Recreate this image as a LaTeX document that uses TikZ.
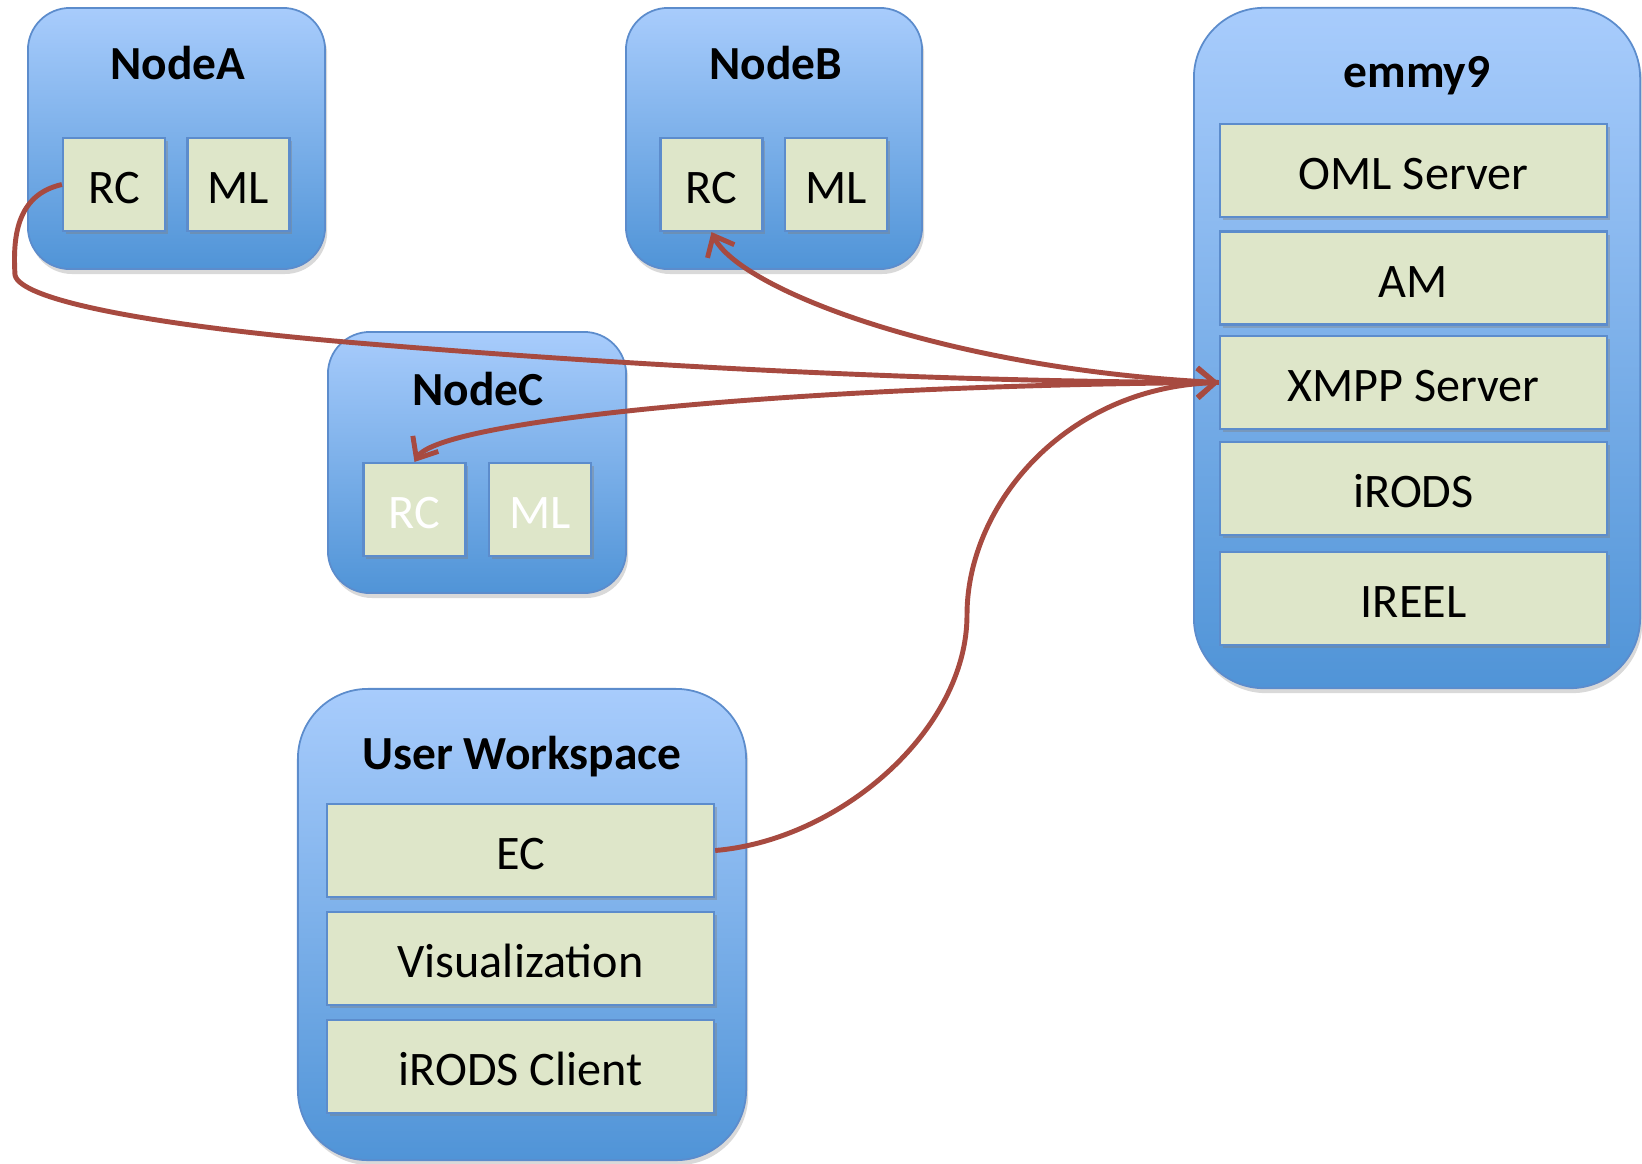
\documentclass[tikz,border=0pt]{standalone}
\usepackage{fontspec}
\setmainfont{Carlito}
\usetikzlibrary{shadows,arrows.meta}
\definecolor{topblue}{RGB}{168,204,252}
\definecolor{botblue}{RGB}{80,148,215}
\definecolor{edgeblue}{RGB}{92,140,204}
\definecolor{boxfill}{RGB}{222,230,201}
\definecolor{arrowred}{RGB}{167,74,64}
\begin{document}
\begin{tikzpicture}[x=0.01cm,y=-0.01cm,
  cont/.style={draw=edgeblue, line width=0.5pt, top color=topblue, bottom color=botblue,
    rounded corners=0.42cm, inner sep=0pt,
    drop shadow={shadow xshift=0.6pt,shadow yshift=-1.4pt,opacity=0.3}},
  bigcont/.style={cont, rounded corners=0.7cm},
  comp/.style={draw=edgeblue, line width=0.6pt, fill=boxfill, inner sep=0pt,
    font=\fontsize{13.7}{15}\selectfont, text height=11pt, text depth=0pt,
    drop shadow={shadow xshift=0.8pt,shadow yshift=-0.9pt,opacity=0.4}},
  sq/.style={comp, minimum width=1.02cm, minimum height=0.93cm},
  wide/.style={comp, minimum width=3.87cm, minimum height=0.93cm},
  ttl/.style={font=\bfseries\fontsize{13.5}{15}\selectfont},
  link/.style={draw=arrowred, line width=1.4pt},
  tip/.style={-{Straight Barb[length=5pt,width=8.5pt]}}
]
\useasboundingbox (0,0) rectangle (1642,1163);

% NodeA
\node[cont, minimum width=2.97cm, minimum height=2.61cm] (A) at (176.5,138.5) {};
\node[ttl] (At) at (178,63) {NodeA};
\node[sq] (Arc) at (114,184.5) {RC};
\node[sq] (Aml) at (238.5,184.5) {ML};

% NodeB
\node[cont, minimum width=2.96cm, minimum height=2.61cm] (B) at (774,138.5) {};
\node[ttl] (Bt) at (776,63) {NodeB};
\node[sq] (Brc) at (711.5,184.5) {RC};
\node[sq] (Bml) at (836,184.5) {ML};

% NodeC
\node[cont, minimum width=2.98cm, minimum height=2.61cm] (C) at (477,462.5) {};
\node[ttl] (Ct) at (478,389) {NodeC};
\node[sq, text=white] (Crc) at (414.5,509.5) {RC};
\node[sq, text=white] (Cml) at (540,509.5) {ML};

% emmy9
\node[bigcont, minimum width=4.46cm, minimum height=6.80cm] (E) at (1417,348) {};
\node[ttl] (Et) at (1417,76) {emmy9};
\node[wide] (oml) at (1413.5,170.5) {OML Server};
\node[wide] (am) at (1413.5,278) {AM};
\node[wide] (xmpp) at (1413.5,382.5) {XMPP Server};
\node[wide] (irods) at (1413.5,488.5) {iRODS};
\node[wide] (ireel) at (1413.5,598.5) {IREEL};

% User Workspace
\node[bigcont, minimum width=4.48cm, minimum height=4.71cm] (U) at (522,924.5) {};
\node[ttl] (Ut) at (522,757) {User Workspace};
\node[wide] (ec) at (520.5,850.5) {EC};
\node[wide] (vis) at (520.5,958.5) {Visualization};
\node[wide] (icl) at (520.5,1066.5) {iRODS Client};

% connectors
\draw[link, tip] (Arc.west) .. controls (15,195) and (13,240) .. (15,275)
  .. controls (20,300) and (150,325) .. (346,342)
  .. controls (700,372) and (1000,382) .. (xmpp.west);
\draw[link, tip] (xmpp.west) .. controls (950,370) and (740,290) .. (Brc.south);
\draw[link, tip] (xmpp.west) .. controls (800,385) and (440,420) .. (Crc.north);
\draw[link, tip] (ec.east) .. controls (840,840) and (967,730) .. (967,615)
  .. controls (967,505) and (1065,388) .. (xmpp.west);
\end{tikzpicture}
\end{document}
